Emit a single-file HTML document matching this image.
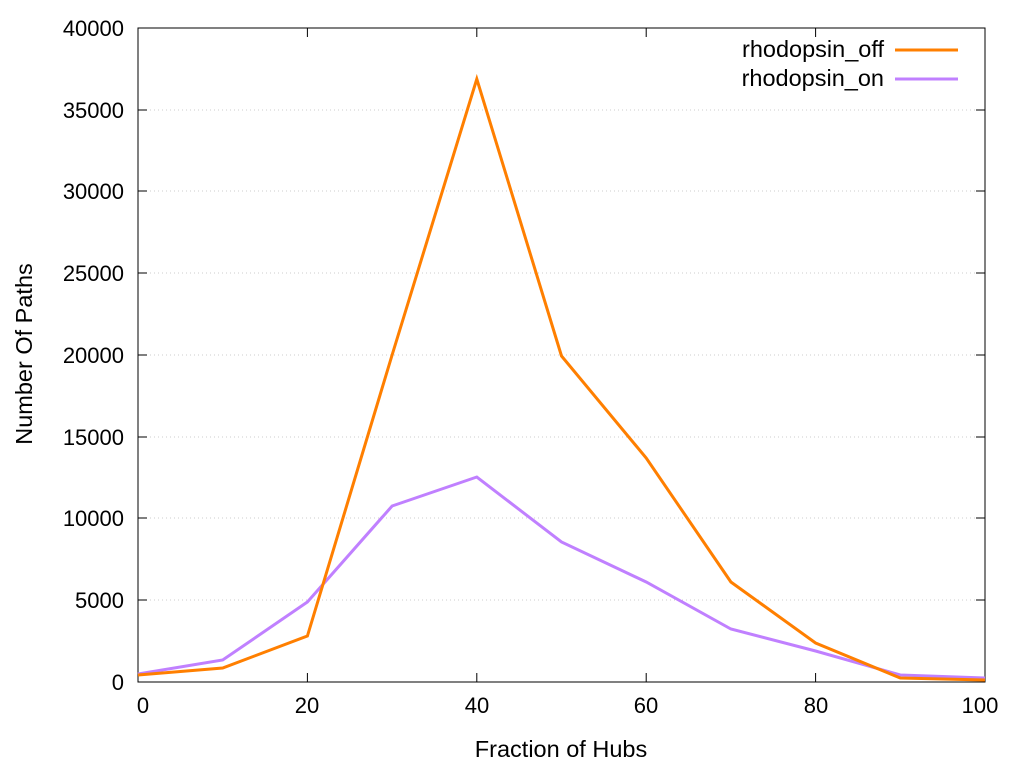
<!DOCTYPE html>
<html><head><style>body{margin:0;background:#fff}svg{display:block}text{font-family:"Liberation Sans",sans-serif;font-size:22px;fill:#000}.big{font-size:23.5px}</style></head><body>
<svg width="1024" height="768" viewBox="0 0 1024 768">
<g stroke="#ccc" stroke-width="1" stroke-dasharray="1,3">
<line x1="138" y1="600" x2="985" y2="600"/><line x1="138" y1="518" x2="985" y2="518"/><line x1="138" y1="437" x2="985" y2="437"/><line x1="138" y1="355" x2="985" y2="355"/><line x1="138" y1="273" x2="985" y2="273"/><line x1="138" y1="191" x2="985" y2="191"/><line x1="138" y1="110" x2="985" y2="110"/>
</g>
<g stroke="#000" stroke-width="1">
<rect x="138" y="28" width="847" height="654" fill="none"/>
<path d="M138 600h9M138 518h9M138 437h9M138 355h9M138 273h9M138 191h9M138 110h9M985 600h-9M985 518h-9M985 437h-9M985 355h-9M985 273h-9M985 191h-9M985 110h-9M307.4 682v-9M476.8 682v-9M646.2 682v-9M815.6 682v-9M307.4 28v9M476.8 28v9M646.2 28v9M815.6 28v9"/>
</g>
<g text-anchor="end">
<text x="124" y="690">0</text><text x="124" y="608">5000</text><text x="124" y="526">10000</text><text x="124" y="445">15000</text><text x="124" y="363">20000</text><text x="124" y="281">25000</text><text x="124" y="199">30000</text><text x="124" y="118">35000</text><text x="124" y="36">40000</text>
</g>
<g text-anchor="middle">
<text x="143" y="713">0</text><text x="307" y="713">20</text><text x="477" y="713">40</text><text x="646" y="713">60</text><text x="816" y="713">80</text><text x="980" y="713">100</text>
<text class="big" x="561" y="757">Fraction of Hubs</text>
<text class="big" transform="translate(32,354) rotate(-90)">Number Of Paths</text>
</g>
<text class="big" x="884" y="57" text-anchor="end">rhodopsin_off</text>
<text class="big" x="884" y="86" text-anchor="end">rhodopsin_on</text>
<line x1="895" y1="50" x2="958" y2="50" stroke="#ff7f00" stroke-width="3"/>
<line x1="895" y1="79" x2="958" y2="79" stroke="#c080ff" stroke-width="3"/>
<polyline fill="none" stroke="#c080ff" stroke-width="3" points="138,674 222.7,660 307.4,602 392.1,506 476.8,477 561.5,542 646.2,582 730.9,629 815.6,651 900.3,675 985,678"/>
<polyline fill="none" stroke="#ff7f00" stroke-width="3" points="138,675 222.7,668 307.4,636 392.1,355 476.8,79 561.5,356 646.2,458 730.9,582 815.6,643 900.3,678 985,680"/>
</svg>
</body></html>
